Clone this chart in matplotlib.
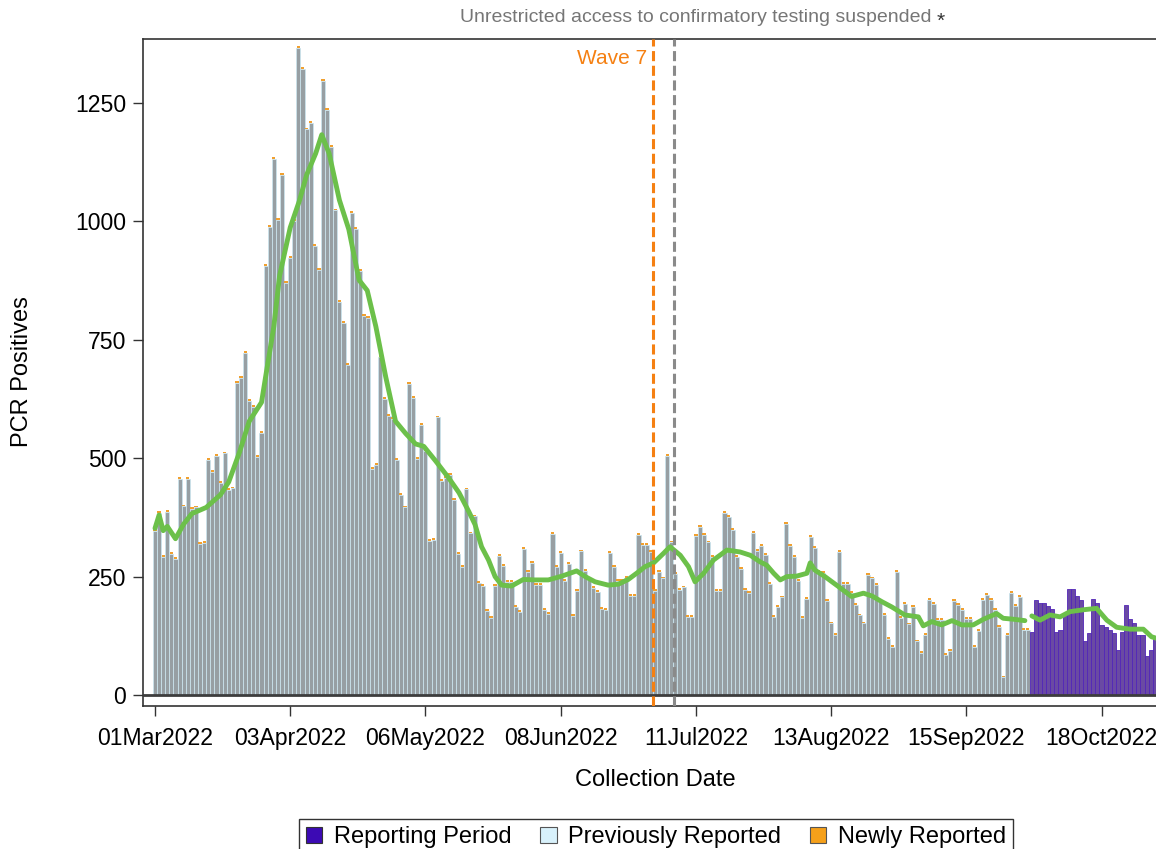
import numpy as np
import pandas as pd
import matplotlib
matplotlib.use("Agg")
import matplotlib.pyplot as plt
import matplotlib.dates as mdates
from matplotlib.patches import Patch

plt.rcParams['font.family'] = ['Liberation Sans', 'DejaVu Sans']

# daily PCR positives, 01Mar2022 - 30Sep2022 (previously reported)
prev_reported = [
    347, 385, 291, 387, 297, 288, 457, 398, 457, 392,
    396, 318, 321, 496, 470, 505, 448, 510, 432, 436,
    658, 670, 723, 620, 608, 503, 554, 906, 989, 1131,
    1003, 1098, 870, 923, 1000, 1367, 1321, 1194, 1207, 949,
    898, 1296, 1235, 1157, 1023, 830, 785, 696, 1017, 984,
    896, 800, 796, 478, 485, 714, 625, 590, 583, 497,
    423, 396, 656, 627, 498, 570, 516, 325, 328, 586,
    452, 458, 465, 411, 298, 270, 434, 341, 377, 236,
    230, 177, 162, 231, 294, 273, 239, 239, 186, 176,
    309, 259, 278, 232, 232, 179, 172, 340, 271, 300,
    240, 276, 167, 219, 303, 262, 243, 226, 217, 182,
    179, 300, 270, 240, 240, 247, 209, 209, 338, 317,
    317, 302, 220, 260, 246, 505, 322, 255, 222, 227,
    165, 164, 336, 355, 338, 322, 292, 219, 219, 385,
    375, 348, 291, 267, 222, 215, 343, 304, 314, 296,
    234, 164, 185, 206, 361, 315, 291, 241, 163, 202,
    334, 310, 260, 258, 198, 151, 127, 302, 235, 235,
    215, 190, 168, 151, 254, 246, 232, 196, 169, 119,
    101, 260, 163, 192, 149, 185, 113, 89, 127, 200,
    193, 158, 158, 84, 93, 198, 190, 180, 160, 160,
    102, 136, 200, 211, 200, 179, 143, 37, 127, 216,
    188, 207, 138, 138,
]
# reporting period, 01Oct2022 - 31Oct2022
report_period = [
    134, 201, 194, 194, 188, 181, 132, 137, 169, 223,
    223, 208, 201, 113, 130, 202, 194, 148, 144, 137,
    130, 95, 134, 190, 160, 151, 127, 127, 82, 96, 120,
]
newly_reported = 4  # thin orange cap on each earlier bar

# 7-day average line (day offset from 01Mar2022, value); nan = break
avg_days = [0, 1, 2, 3, 5, 7, 9, 12.5, 16, 18, 20.6, 23, 26, 27, 29, 30.4, 33,
            35.3, 37, 39.2, 40.7, 42.5, 45, 47.3, 49.8, 51.8, 53.9, 56.3, 58.7,
            61.2, 63.6, 65.6, 68.5, 71.7, 74.2, 76.6, 78.1, 79.7, 81.4, 83, 84.6,
            87, 89.9, 92.7, 96, 99.3, 102.9, 105, 107.4, 110.6, 113.1, 115.5,
            118, 119.6, 121.7, 124.1, 125.7, 128.2, 130.2, 131.8, 133.9, 136.3,
            139.6, 142.8, 145.3, 147.7, 149.3, 151, 152.6, 154.2, 156.6, 159.1,
            159.9, 161, 163.5, 166.8, 170, 172.9, 175, 177.4, 179.8, 183, 186.3,
            187.5, 189.6, 192, 194.5, 196.9, 199.7, 202.2, 205.4, 207, 209.5,
            212.3, 213, 214, 216, 218.4, 220.9, 223.3, 226.6, 229.8, 232.3,
            234.7, 238, 241.2, 243.2, 244.3]
avg_vals = [352, 380, 347, 356, 330, 361, 383, 396, 423, 450, 512, 578, 618, 672,
            778, 885, 987, 1045, 1098, 1143, 1183, 1143, 1045, 983, 876, 854, 778,
            672, 578, 552, 530, 525, 494, 458, 427, 387, 360, 313, 285, 250, 232,
            230, 244, 243, 243, 251, 262, 250, 239, 232, 234, 244, 260, 271, 279,
            299, 313, 295, 271, 239, 257, 285, 306, 302, 295, 281, 274, 257, 243,
            250, 251, 257, 279, 264, 250, 229, 208, 215, 209, 197, 186, 169, 165,
            146, 155, 148, 157, 148, 148, 160, 172, 162, 160, 157, np.nan, 167,
            158, 169, 165, 176, 180, 183, 158, 143, 139, 139, 123, 120]

tick_dates = ['2022-03-01', '2022-04-03', '2022-05-06', '2022-06-08',
              '2022-07-11', '2022-08-13', '2022-09-15', '2022-10-18']
wave7_date = pd.Timestamp('2022-06-30 14:00')
suspend_date = pd.Timestamp('2022-07-05 17:00')

start = pd.Timestamp('2022-03-01')
prev_dates = pd.date_range(start, periods=len(prev_reported))
rep_dates = pd.date_range(prev_dates[-1] + pd.Timedelta(days=1), periods=len(report_period))
avg_dates = [start + pd.Timedelta(days=d) for d in avg_days]

W, H = 1156, 849
fig = plt.figure(figsize=(W / 100, H / 100), dpi=100)
ax = fig.add_axes([143 / W, 1 - 706 / H, (W - 143) / W, (706 - 39) / H])

ax.bar(prev_dates, prev_reported, width=1.0, color='#979fa3',
       edgecolor='#cbe5ef', linewidth=0.55, zorder=2)
ax.bar(prev_dates, [newly_reported] * len(prev_dates), bottom=prev_reported,
       width=0.8, color='#f0a030', linewidth=0, zorder=2)
ax.bar(rep_dates, report_period, width=1.0, color='#6a4aa3',
       edgecolor='#5226b8', linewidth=0.6, zorder=2)

ax.axhline(0, color='#3d3d3d', lw=2, zorder=3)
ax.plot(avg_dates, avg_vals, color='#6cc04a', lw=3.5, zorder=4,
        solid_capstyle='round', solid_joinstyle='round')

ax.axvline(wave7_date, color='#f58012', lw=2.2, ls=(0, (3.3, 1.5)), zorder=5)
ax.axvline(suspend_date, color='#8a8a8a', lw=2.2, ls=(0, (3.3, 1.5)), zorder=5)
ax.annotate('Wave 7', xy=(wave7_date, 1), xycoords=('data', 'axes fraction'),
            xytext=(-6, -20), textcoords='offset pixels', ha='right', va='center',
            color='#f58012', fontsize=15)

ax.set_xlim(start - pd.Timedelta(days=2.93), start + pd.Timedelta(days=244.3))
ax.set_ylim(-23.2, 1385)
ax.set_yticks([0, 250, 500, 750, 1000, 1250])
ax.set_xticks(pd.to_datetime(tick_dates))
ax.xaxis.set_major_formatter(mdates.DateFormatter('%d%b%Y'))
ax.tick_params(axis='both', direction='out', length=7, width=1,
               labelsize=16.6, color='#333333', pad=5)
ax.tick_params(axis='x', pad=8)

for side in ['left', 'top', 'bottom']:
    ax.spines[side].set_color('#333333')
    ax.spines[side].set_linewidth(1.2)
ax.spines['right'].set_visible(False)

fig.text(22 / W, 1 - 372 / H, 'PCR Positives', rotation=90, fontsize=17,
         ha='center', va='center')
fig.text(655 / W, 1 - 780 / H, 'Collection Date', fontsize=17,
         ha='center', va='center')
fig.text(932 / W, 1 - 18 / H, 'Unrestricted access to confirmatory testing suspended',
         fontsize=14, color='#767676', ha='right', va='center')
fig.text(937 / W, 1 - 21 / H, '*', fontsize=15, color='#333333',
         ha='left', va='center')

handles = [Patch(facecolor='#3c0ab4', edgecolor='#333333', lw=0.8),
           Patch(facecolor='#d8f1fb', edgecolor='#555555', lw=0.8),
           Patch(facecolor='#f5a01a', edgecolor='#555555', lw=0.8)]
leg = fig.legend(handles, ['Reporting Period', 'Previously Reported', 'Newly Reported'],
                 loc='upper center', bbox_to_anchor=(656 / W, 1 - 819 / H), ncol=3,
                 frameon=True, fancybox=False, edgecolor='black', fontsize=17,
                 handlelength=0.7, handleheight=0.7, handletextpad=0.5,
                 columnspacing=1.2, borderpad=0.3, borderaxespad=0)
leg.get_frame().set_linewidth(1.0)

fig.savefig('out.png', dpi=100)
